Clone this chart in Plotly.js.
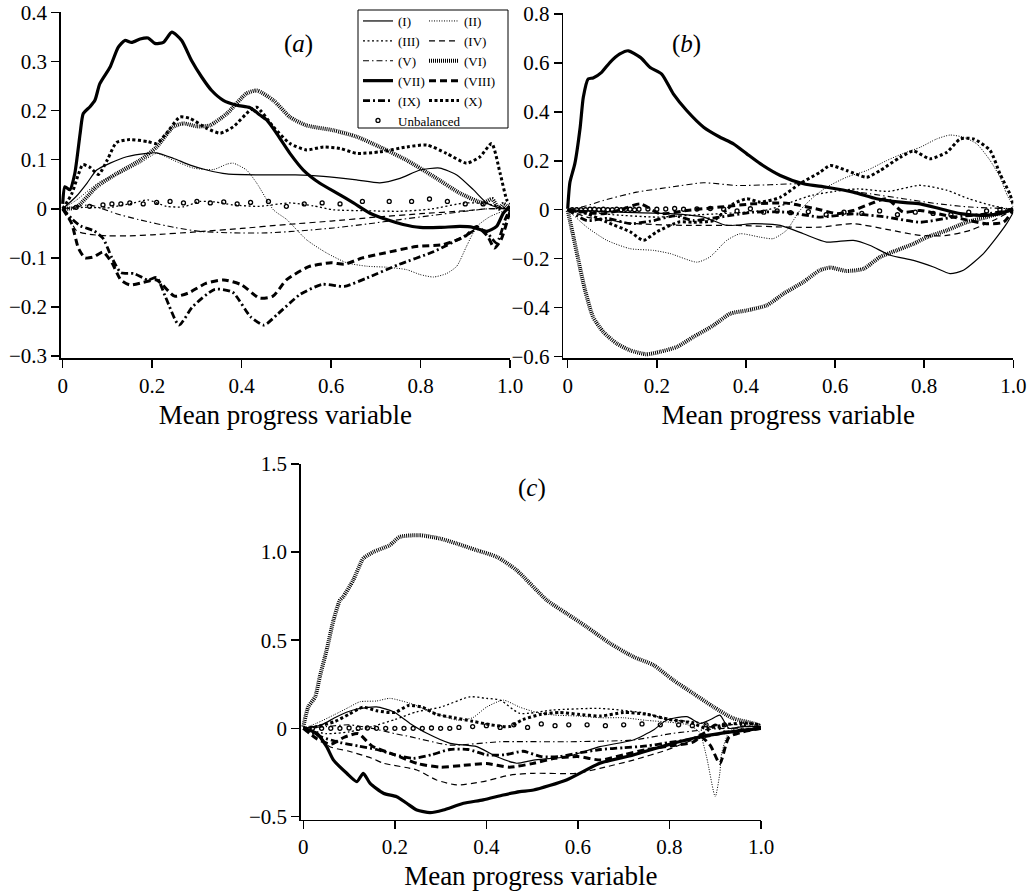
<!DOCTYPE html>
<html>
<head>
<meta charset="utf-8">
<script src="https://cdn.plot.ly/plotly-3.0.1.min.js"></script>
<style>html,body{margin:0;padding:0;background:#fff}#chart{width:1032px;height:896px}</style>
</head>
<body>
<div id="chart"></div>
<script>
// ---------- tick labels ----------
const xTickVals = [0, 0.2, 0.4, 0.6, 0.8, 1.0];
const xTickLabels = ["0", "0.2", "0.4", "0.6", "0.8", "1.0"];
const cYTickVals = [-0.5, 0, 0.5, 1.0, 1.5];
const cYTickLabels = ["\u22120.5", "0", "0.5", "1.0", "1.5"];
const seriesNames = ["(I)", "(II)", "(III)", "(IV)", "(V)", "(VI)", "(VII)", "(VIII)", "(IX)", "(X)", "Unbalanced"];
const panelLabels = ["(<i>a</i>)", "(<i>b</i>)", "(<i>c</i>)"];
const xTitle = "Mean progress variable";

// ---------- panel (a) ----------
const a_I_x = [0,.03,.054,.076,.106,.143,.188,.21,.247,.285,.322,.367,.441,.52,.583,.657,.709,.754,.799,.843,.881,.918,.948,.978,1];
const a_I_y = [0,.025,.052,.079,.093,.106,.113,.114,.103,.089,.079,.071,.069,.069,.066,.059,.053,.062,.079,.083,.069,.039,.012,.002,0];
const a_II_x = [0,.031,.083,.128,.173,.21,.247,.292,.337,.367,.381,.411,.434,.471,.501,.545,.59,.635,.68,.724,.769,.799,.829,.858,.881,.903,.926,.955,.993,1];
const a_II_y = [0,.018,.055,.072,.093,.113,.099,.083,.080,.091,.093,.079,.052,-.002,-.022,-.063,-.090,-.110,-.117,-.119,-.124,-.134,-.139,-.132,-.117,-.076,-.036,-.016,-.002,0];
const a_III_x = [0,.05,.1,.158,.19,.232,.27,.307,.34,.381,.44,.508,.56,.605,.68,.754,.82,.9,.95,1];
const a_III_y = [0,.003,.002,.012,.018,.005,.004,.015,.014,.008,.005,.012,.006,-.002,-.004,-.005,-.001,.012,.01,0];
const a_IV_x = [0,.015,.031,.06,.1,.15,.2,.3,.4,.5,.6,.7,.8,.9,.95,1];
const a_IV_y = [0,-.02,-.045,-.052,-.055,-.055,-.053,-.047,-.04,-.032,-.025,-.017,-.01,-.004,0,0];
const a_V_x = [0,.03,.06,.083,.12,.17,.25,.307,.38,.456,.53,.605,.68,.754,.83,.9,.95,1];
const a_V_y = [0,.004,.008,.002,-.01,-.022,-.038,-.046,-.049,-.049,-.045,-.039,-.031,-.022,-.013,-.005,0,0];
const a_VI_x = [0,.03,.076,.121,.173,.21,.247,.27,.3,.329,.367,.411,.434,.471,.508,.545,.605,.657,.709,.769,.829,.888,.94,.96,.975,.985,1];
const a_VI_y = [0,.003,.045,.072,.099,.126,.167,.174,.168,.170,.194,.235,.241,.221,.187,.170,.160,.147,.126,.099,.066,.032,.012,.02,0,.01,0];
const a_VII_x = [0,.005,.016,.027,.039,.046,.061,.072,.083,.106,.124,.139,.154,.173,.191,.206,.225,.244,.266,.288,.311,.333,.359,.389,.419,.441,.456,.478,.508,.538,.575,.613,.65,.687,.724,.761,.799,.843,.888,.918,.948,.97,.985,1];
const a_VII_y = [.01,.045,.039,.072,.154,.194,.208,.221,.255,.289,.329,.343,.339,.346,.348,.337,.339,.360,.343,.302,.268,.241,.221,.211,.206,.191,.181,.154,.113,.079,.052,.032,.012,-.009,-.022,-.032,-.038,-.038,-.036,-.038,-.046,-.036,-.009,.005];
const a_VIII_x = [0,.02,.035,.05,.07,.09,.11,.13,.15,.18,.21,.25,.28,.32,.36,.4,.44,.47,.5,.55,.6,.63,.67,.72,.79,.85,.9,.925,.95,.965,.98,1];
const a_VIII_y = [0,-.03,-.08,-.1,-.098,-.088,-.11,-.145,-.155,-.15,-.145,-.178,-.172,-.152,-.145,-.155,-.182,-.178,-.145,-.118,-.11,-.113,-.1,-.09,-.077,-.073,-.056,-.036,-.056,-.08,-.063,-.005];
const a_IX_x = [0,.02,.04,.07,.09,.11,.13,.16,.19,.21,.23,.26,.29,.34,.38,.42,.45,.48,.53,.58,.63,.68,.75,.83,.9,.93,.95,.97,.99,1];
const a_IX_y = [0,-.02,-.035,-.045,-.06,-.1,-.13,-.132,-.145,-.14,-.18,-.237,-.2,-.164,-.17,-.22,-.237,-.215,-.175,-.154,-.158,-.141,-.114,-.087,-.055,-.04,-.05,-.07,-.02,0];
const a_X_x = [0,.02,.035,.045,.06,.08,.1,.12,.15,.19,.21,.232,.262,.285,.322,.352,.381,.419,.434,.471,.508,.545,.583,.62,.657,.709,.769,.814,.858,.903,.933,.959,.978,.993,1];
const a_X_y = [0,.03,.07,.09,.085,.07,.1,.135,.141,.137,.133,.154,.187,.184,.164,.154,.167,.201,.207,.167,.133,.120,.126,.123,.113,.116,.126,.130,.113,.093,.106,.133,.072,.018,.01];
const a_U_x = [.03,.06,.09,.11,.13,.15,.18,.21,.24,.27,.3,.33,.36,.39,.42,.46,.5,.54,.58,.62,.67,.73,.78,.82,.86,.9,.94];
const a_U_y = [.003,.005,.008,.01,.01,.012,.01,.013,.015,.012,.015,.012,.014,.01,.013,.015,.005,.01,.012,.01,.015,.015,.015,.02,.015,.01,.01];

// ---------- panel (b) ----------
const b_I_x = [0,.05,.117,.23,.305,.357,.417,.477,.529,.581,.641,.679,.724,.776,.821,.858,.888,.933,.963,.985,1];
const b_I_y = [0,-.005,-.010,-.016,-.030,-.064,-.057,-.064,-.098,-.132,-.125,-.146,-.186,-.207,-.234,-.261,-.247,-.179,-.112,-.057,-.01];
const b_II_x = [0,.043,.088,.14,.193,.23,.29,.319,.357,.387,.432,.461,.491,.521,.551,.581,.626,.671,.716,.753,.791,.828,.858,.888,.918,.948,.97,.985,1];
const b_II_y = [0,-.071,-.125,-.159,-.166,-.179,-.214,-.193,-.125,-.098,-.112,-.118,-.084,-.003,.051,.092,.133,.160,.201,.230,.255,.289,.305,.296,.269,.201,.133,.065,.011];
const b_III_x = [0,.05,.1,.2,.3,.4,.45,.5,.55,.6,.65,.72,.79,.85,.9,.95,1];
const b_III_y = [0,-.01,-.02,-.03,-.02,-.01,0,.03,.06,.075,.085,.075,.1,.08,.045,.018,0];
const b_IV_x = [0,.02,.043,.155,.267,.38,.491,.566,.641,.716,.791,.851,.903,.955,1];
const b_IV_y = [0,-.015,-.030,-.057,-.064,-.064,-.071,-.071,-.057,-.08,-.105,-.105,-.084,-.044,0];
const b_V_x = [0,.04,.08,.155,.23,.305,.38,.454,.529,.604,.679,.753,.828,.903,1];
const b_V_y = [0,.015,.038,.072,.092,.110,.099,.102,.106,.085,.065,.045,.025,.011,.004];
const b_VI_x = [0,.013,.024,.039,.057,.08,.11,.14,.177,.207,.245,.282,.327,.365,.402,.447,.485,.529,.566,.589,.626,.664,.701,.738,.776,.806,.851,.895,.94,.978,1];
const b_VI_y = [-.003,-.112,-.207,-.329,-.438,-.499,-.546,-.574,-.590,-.580,-.560,-.519,-.472,-.424,-.411,-.390,-.342,-.295,-.247,-.236,-.250,-.241,-.193,-.166,-.139,-.112,-.084,-.051,-.030,-.010,.004];
const b_VII_x = [0,.005,.016,.028,.035,.046,.057,.076,.095,.117,.136,.163,.185,.211,.237,.267,.305,.342,.372,.402,.432,.477,.529,.581,.641,.693,.746,.791,.836,.881,.926,.97,1];
const b_VII_y = [.004,.112,.188,.337,.459,.534,.538,.561,.602,.636,.649,.622,.581,.554,.473,.405,.337,.296,.269,.228,.188,.140,.106,.092,.072,.045,.031,.024,.004,-.016,-.023,-.016,.004];
const b_VIII_x = [0,.04,.08,.12,.163,.207,.267,.342,.417,.491,.566,.604,.641,.679,.716,.753,.791,.866,.94,.978,1];
const b_VIII_y = [0,-.01,-.016,0,.024,-.016,-.003,.011,.024,.027,0,-.016,-.003,.024,.045,-.010,-.003,-.030,-.057,-.051,0];
const b_IX_x = [0,.043,.09,.14,.193,.24,.282,.342,.417,.491,.566,.641,.716,.791,.866,.94,1];
const b_IX_y = [0,-.044,-.035,-.057,-.044,-.025,-.044,-.03,-.010,-.010,-.03,-.017,-.03,-.051,-.03,-.017,0];
const b_X_x = [0,.043,.088,.14,.17,.2,.25,.282,.327,.372,.402,.432,.477,.521,.566,.589,.626,.671,.701,.746,.776,.813,.851,.881,.911,.948,.97,.992,1];
const b_X_y = [0,-.016,-.051,-.09,-.125,-.09,-.05,-.051,-.044,.024,.045,.031,.051,.106,.153,.181,.160,.133,.160,.214,.240,.208,.235,.289,.289,.242,.147,.065,.02];
const b_U_x = [.01,.02,.03,.04,.05,.06,.07,.08,.09,.1,.11,.12,.13,.14,.15,.16,.18,.2,.22,.24,.26,.29,.32,.35,.38,.41,.44,.47,.5,.54,.58,.62,.66,.7,.74,.78,.82,.86,.9,.94,.97];
const b_U_y = [0,0,0,0,.002,.002,0,.002,0,0,.002,0,.002,.002,0,.002,.003,.002,.003,.005,.002,.003,.005,.002,-.005,.004,-.01,-.005,-.012,-.008,-.02,-.01,-.015,-.005,-.02,-.01,-.015,-.02,-.01,-.005,0];

// ---------- panel (c) ----------
const c_I_x = [0,.04,.073,.109,.16,.197,.233,.27,.321,.379,.423,.466,.503,.575,.648,.721,.765,.794,.838,.867,.89,.91,.93,.96,1];
const c_I_y = [0,.02,.066,.104,.122,.094,.028,-.028,-.085,-.104,-.161,-.198,-.180,-.161,-.104,-.066,-.010,.047,.066,.028,.05,.075,0,.01,.01];
const c_II_x = [0,.03,.07,.1,.124,.16,.189,.233,.29,.335,.37,.4,.437,.473,.51,.55,.6,.65,.7,.75,.8,.84,.865,.881,.9,.91,.914,.93,.95,.97,1];
const c_II_y = [0,.03,.08,.12,.151,.155,.170,.142,.085,.047,.06,.12,.16,.12,.09,.075,.07,.06,.06,.045,.035,.02,-.02,-.161,-.388,-.255,-.142,-.02,.01,.02,.02];
const c_III_x = [0,.05,.1,.15,.2,.248,.3,.364,.4,.43,.473,.546,.648,.75,.794,.84,.87,.9,.93,.96,1];
const c_III_y = [0,-.03,-.02,.01,.05,.094,.12,.179,.17,.16,.085,.104,.113,.085,.05,.04,.03,0,.02,.02,0];
const c_IV_x = [0,.03,.058,.1,.15,.175,.248,.291,.335,.393,.452,.503,.597,.648,.721,.794,.852,.9,.95,1];
const c_IV_y = [0,-.04,-.104,-.13,-.17,-.198,-.236,-.293,-.321,-.302,-.265,-.255,-.255,-.227,-.180,-.123,-.066,-.04,-.015,0];
const c_V_x = [0,.05,.1,.15,.2,.233,.321,.43,.575,.721,.808,.87,.92,1];
const c_V_y = [0,.01,.02,0,-.03,-.047,-.095,-.076,-.076,-.066,-.028,-.01,0,0];
const c_VI_x = [0,.011,.026,.036,.051,.066,.080,.087,.109,.131,.153,.189,.211,.255,.299,.335,.379,.423,.466,.532,.575,.619,.670,.721,.765,.808,.852,.896,.939,.983,1];
const c_VI_y = [.009,.122,.179,.292,.444,.614,.727,.746,.840,.963,1.0,1.039,1.086,1.095,1.076,1.048,1.010,.972,.897,.727,.652,.576,.482,.406,.359,.274,.198,.122,.057,.028,.013];
const c_VII_x = [0,.03,.051,.066,.095,.117,.131,.146,.175,.204,.226,.248,.277,.306,.35,.393,.437,.473,.503,.575,.648,.721,.794,.867,.939,1];
const c_VII_y = [0,-.03,-.104,-.180,-.255,-.302,-.255,-.312,-.368,-.388,-.425,-.463,-.478,-.463,-.425,-.406,-.378,-.359,-.350,-.293,-.198,-.151,-.095,-.048,-.019,0];
const c_VIII_x = [0,.03,.06,.09,.12,.15,.2,.25,.3,.35,.4,.45,.5,.55,.6,.65,.7,.75,.8,.85,.87,.89,.91,.93,.96,1];
const c_VIII_y = [0,-.06,-.09,-.05,-.03,-.1,-.15,-.2,-.22,-.21,-.2,-.22,-.2,-.17,-.16,-.18,-.15,-.12,-.1,-.08,-.05,-.1,-.2,-.05,-.02,0];
const c_IX_x = [0,.04,.08,.12,.16,.2,.24,.28,.32,.36,.4,.44,.48,.52,.56,.6,.65,.7,.75,.8,.85,.88,.9,.92,.95,1];
const c_IX_y = [0,-.05,-.08,-.1,-.12,-.15,-.17,-.15,-.12,-.12,-.15,-.15,-.13,-.16,-.16,-.14,-.12,-.11,-.1,-.08,-.06,-.02,.02,-.02,-.01,0];
const c_X_x = [0,.03,.07,.1,.13,.16,.2,.23,.26,.29,.33,.37,.41,.45,.48,.52,.56,.6,.65,.7,.75,.8,.85,.88,.92,.96,1];
const c_X_y = [0,.01,.04,.08,.12,.1,.09,.13,.12,.08,.06,.04,.02,.01,.05,.08,.09,.08,.07,.09,.08,.05,.03,0,.02,.03,.02];
const c_U_x = [.02,.04,.06,.08,.1,.12,.14,.16,.18,.2,.22,.24,.26,.28,.3,.32,.34,.37,.4,.43,.46,.49,.52,.55,.58,.62,.66,.7,.74,.78,.82,.85,.88,.92,.96];
const c_U_y = [0,0,0,0,.002,0,.002,0,0,0,0,0,0,.002,0,0,.005,.01,.015,.005,.02,.005,.025,.015,.02,.02,.015,.02,.025,.02,.02,.015,.02,.02,.02];

// ---------- styles ----------
const FONT = "Liberation Serif, Times New Roman, serif";
const lineStyles = [
  {width: 1.2, dash: "solid"},
  {width: 1.0, dash: "1px,1.5px"},
  {width: 1.3, dash: "2px,2.5px"},
  {width: 1.2, dash: "6px,4px"},
  {width: 1.1, dash: "6px,3px,1.5px,3px"},
  {width: 4.0, dash: "1px,1px"},
  {width: 3.2, dash: "solid"},
  {width: 3.0, dash: "7px,4px"},
  {width: 2.8, dash: "7px,3px,2px,3px"},
  {width: 3.0, dash: "3px,2.5px"}
];

const panels = [
  {ax: "", data: [[a_I_x,a_I_y],[a_II_x,a_II_y],[a_III_x,a_III_y],[a_IV_x,a_IV_y],[a_V_x,a_V_y],[a_VI_x,a_VI_y],[a_VII_x,a_VII_y],[a_VIII_x,a_VIII_y],[a_IX_x,a_IX_y],[a_X_x,a_X_y]], u: [a_U_x,a_U_y]},
  {ax: "2", data: [[b_I_x,b_I_y],[b_II_x,b_II_y],[b_III_x,b_III_y],[b_IV_x,b_IV_y],[b_V_x,b_V_y],[b_VI_x,b_VI_y],[b_VII_x,b_VII_y],[b_VIII_x,b_VIII_y],[b_IX_x,b_IX_y],[b_X_x,b_X_y]], u: [b_U_x,b_U_y]},
  {ax: "3", data: [[c_I_x,c_I_y],[c_II_x,c_II_y],[c_III_x,c_III_y],[c_IV_x,c_IV_y],[c_V_x,c_V_y],[c_VI_x,c_VI_y],[c_VII_x,c_VII_y],[c_VIII_x,c_VIII_y],[c_IX_x,c_IX_y],[c_X_x,c_X_y]], u: [c_U_x,c_U_y]}
];

const traces = [];
panels.forEach((p, pi) => {
  p.data.forEach((d, i) => {
    traces.push({
      type: "scatter", mode: "lines", x: d[0], y: d[1],
      xaxis: "x" + p.ax, yaxis: "y" + p.ax,
      name: seriesNames[i],
      line: {color: "#000", width: lineStyles[i].width, dash: lineStyles[i].dash, shape: "spline", smoothing: 0.6},
      showlegend: pi === 0,
      legend: (i % 2 === 0) ? "legend" : "legend2",
      hoverinfo: "skip"
    });
  });
  traces.push({
    type: "scatter", mode: "markers", x: p.u[0], y: p.u[1],
    xaxis: "x" + p.ax, yaxis: "y" + p.ax,
    name: seriesNames[10],
    marker: {symbol: "circle-open", size: 4, color: "#000", line: {width: 1.3, color: "#000"}},
    showlegend: pi === 0, legend: "legend", hoverinfo: "skip"
  });
});

function xAxis(domain, range, anchor) {
  return {
    domain: domain, range: range, anchor: anchor,
    showline: true, linecolor: "#000", linewidth: 1.5,
    ticks: "outside", ticklen: 8, tickwidth: 1.5, tickcolor: "#000",
    tickmode: "array", tickvals: xTickVals, ticktext: xTickLabels,
    showgrid: false, zeroline: false,
    tickfont: {family: FONT, size: 21, color: "#000"},
    title: {text: xTitle, font: {family: FONT, size: 27, color: "#000"}, standoff: 8}
  };
}
function yAxis(domain, range, anchor, dtick) {
  return {
    domain: domain, range: range, anchor: anchor,
    showline: true, linecolor: "#000", linewidth: 1.5,
    ticks: "outside", ticklen: 8, tickwidth: 1.5, tickcolor: "#000",
    tickmode: "linear", tick0: 0, dtick: dtick,
    showgrid: false, zeroline: false,
    tickfont: {family: FONT, size: 21, color: "#000"}
  };
}

const legendCommon = {
  yanchor: "top", xanchor: "left", y: 1 - 6/896,
  bgcolor: "rgba(0,0,0,0)", borderwidth: 0,
  font: {family: FONT, size: 13, color: "#000"},
  itemwidth: 30, tracegroupgap: 0, orientation: "v"
};

const layout = {
  width: 1032, height: 896,
  margin: {l: 0, r: 0, t: 0, b: 0},
  paper_bgcolor: "#fff", plot_bgcolor: "rgba(0,0,0,0)",
  font: {family: FONT, color: "#000"},
  xaxis: xAxis([60.7/1032, 510/1032], [-0.0045, 1.0], "y"),
  yaxis: yAxis([1 - 358/896, 1 - 12/896], [-0.304, 0.401], "x", 0.1),
  xaxis2: xAxis([563.3/1032, 1013.3/1032], [-0.0099, 1.0], "y2"),
  yaxis2: yAxis([1 - 358.3/896, 1 - 13.3/896], [-0.6065, 0.802], "x2", 0.2),
  xaxis3: xAxis([300.7/1032, 761/1032], [-0.0057, 1.0], "y3"),
  yaxis3: Object.assign(yAxis([1 - 819.5/896, 1 - 463.5/896], [-0.517, 1.502], "x3", 0.5), {tickmode: "array", tickvals: cYTickVals, ticktext: cYTickLabels}),
  legend: Object.assign({}, legendCommon, {x: 358/1032}),
  legend2: Object.assign({}, legendCommon, {x: 424/1032}),
  shapes: [{type: "rect", xref: "paper", yref: "paper", x0: 358/1032, x1: 508/1032, y0: 1 - 128/896, y1: 1 - 10/896, line: {color: "#000", width: 1}, fillcolor: "rgba(0,0,0,0)", layer: "above"}],
  annotations: [
    {text: panelLabels[0], xref: "paper", yref: "paper", x: 282/1032, y: 1 - 28/896, showarrow: false, font: {family: FONT, size: 25, color: "#000"}},
    {text: panelLabels[1], xref: "paper", yref: "paper", x: 703/1032, y: 1 - 28/896, showarrow: false, font: {family: FONT, size: 25, color: "#000"}},
    {text: panelLabels[2], xref: "paper", yref: "paper", x: 532/1032, y: 1 - 488/896, showarrow: false, font: {family: FONT, size: 25, color: "#000"}}
  ]
};

Plotly.newPlot("chart", traces, layout, {staticPlot: true, displayModeBar: false});
</script>
</body>
</html>
